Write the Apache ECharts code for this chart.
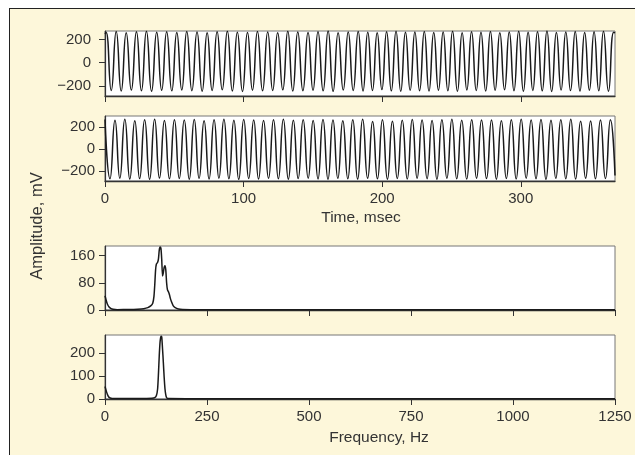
<!DOCTYPE html>
<html>
<head>
<meta charset="utf-8">
<script src="https://cdn.jsdelivr.net/npm/echarts@6/dist/echarts.min.js"></script>
<style>
  html, body { margin: 0; padding: 0; background: #fff; overflow: hidden; }
  #frame { position: absolute; left: 9px; top: 8px; width: 700px; height: 500px;
           background: #fdf7da; border: 1.5px solid #222; }
  #chart { position: absolute; left: 0; top: 0; width: 635px; height: 455px; }
</style>
</head>
<body>
<div id="frame"></div>
<div id="chart"></div>
<script>
// --- time signals (ms, mV): peaks and troughs
const sig1Start = [0, 248]
const sig1End = [368, 255]
const sig1PeakT = [0.8, 8.1, 15.3, 22.7, 29.9, 37.3, 44.5, 51.8, 59.0, 66.4,
  73.7, 80.9, 88.3, 95.5, 102.8, 110.0, 117.4, 124.6, 131.9, 139.1,
  146.5, 153.7, 161.0, 168.2, 175.5, 182.7, 189.6, 196.4, 203.2, 210.0,
  216.8, 223.6, 230.4, 237.2, 244.0, 250.8, 257.7, 264.5, 271.3, 278.1,
  284.9, 291.7, 298.5, 305.3, 312.1, 318.9, 325.7, 332.5, 339.3, 346.1,
  352.9, 359.7, 367.0]
const sig1PeakV = [262, 268, 258, 265, 270, 261, 266, 259, 268, 263,
  257, 266, 270, 262, 259, 267, 264, 256, 269, 263,
  260, 266, 271, 258, 264, 268, 262, 257, 266, 270,
  261, 264, 268, 259, 263, 270, 258, 265, 262, 268,
  256, 264, 269, 261, 266, 271, 259, 263, 267, 260,
  265, 269, 262]
const sig1TroughT = [4.5, 11.7, 19.0, 26.3, 33.6, 40.9, 48.2, 55.4, 62.7, 70.1,
  77.3, 84.6, 91.9, 99.2, 106.4, 113.7, 121.0, 128.3, 135.5, 142.8,
  150.1, 157.4, 164.6, 171.9, 179.1, 186.2, 193.0, 199.8, 206.6, 213.4,
  220.2, 227.0, 233.8, 240.6, 247.4, 254.3, 261.1, 267.9, 274.7, 281.5,
  288.3, 295.1, 301.9, 308.7, 315.5, 322.3, 329.1, 335.9, 342.7, 349.5,
  356.3, 363.3]
const sig1TroughV = [-238, -242, -234, -240, -245, -236, -241, -233, -239, -244,
  -237, -231, -242, -246, -235, -240, -238, -232, -243, -239,
  -236, -241, -245, -234, -238, -242, -237, -230, -241, -244,
  -236, -239, -243, -235, -240, -245, -233, -238, -242, -236,
  -231, -240, -244, -237, -241, -246, -234, -238, -243, -235,
  -240, -244]

const sig2Start = [0, 268]
const sig2End = [368, -240]
const sig2PeakT = [7.2, 14.3, 21.5, 28.6, 35.8, 42.9, 50.1, 57.2, 64.4,
  71.5, 78.7, 85.8, 93.0, 100.1, 107.3, 114.4, 121.6, 128.7, 135.9,
  143.0, 150.2, 157.3, 164.5, 171.6, 178.8, 185.9, 193.1, 200.2, 207.4,
  214.5, 221.7, 228.8, 236.0, 243.1, 250.3, 257.4, 264.6, 271.7, 278.9,
  286.0, 293.2, 300.3, 307.5, 314.6, 321.8, 328.9, 336.1, 343.2, 350.4,
  357.5, 364.7]
const sig2PeakV = [262, 270, 258, 266, 271, 260, 267, 263, 269,
  257, 265, 270, 261, 268, 264, 259, 267, 271, 262,
  266, 260, 269, 264, 258, 267, 270, 250, 265, 252,
  261, 268, 264, 259, 266, 270, 262, 267, 263, 264,
  258, 266, 270, 263, 268, 261, 265, 270, 252, 255,
  263, 266]
const sig2TroughT = [3.6, 10.7, 17.9, 25.0, 32.2, 39.3, 46.5, 53.6, 60.8, 67.9,
  75.1, 82.2, 89.4, 96.5, 103.7, 110.8, 118.0, 125.1, 132.3, 139.4,
  146.6, 153.7, 160.9, 168.0, 175.2, 182.3, 189.5, 196.6, 203.8, 210.9,
  218.1, 225.2, 232.4, 239.5, 246.7, 253.8, 261.0, 268.1, 275.3, 282.4,
  289.6, 296.7, 303.9, 311.0, 318.2, 325.3, 332.5, 339.6, 346.8, 353.9,
  361.1]
const sig2TroughV = [-270, -265, -272, -268, -274, -263, -270, -267, -273, -266,
  -271, -264, -269, -275, -267, -272, -265, -270, -273, -268,
  -264, -271, -274, -266, -269, -272, -265, -270, -273, -267,
  -271, -264, -269, -274, -266, -270, -272, -265, -268, -273,
  -267, -271, -264, -270, -274, -266, -269, -272, -265, -270,
  -268]

// --- spectra (Hz, amplitude)
const spec1F = [0, 3, 6, 10, 15, 20, 30, 60, 80, 95, 105, 112, 117, 120, 122, 124, 126, 129, 131,
  133, 135, 137, 139, 141, 143, 145, 147, 149, 151, 153, 156, 158, 160, 163, 167, 172, 180, 190, 210, 300, 1250]
const spec1A = [42, 28, 17, 9, 4, 2, 1, 1.5, 2.5, 4, 7, 12, 20, 40, 75, 118, 135, 140, 150,
  176, 185, 182, 150, 100, 110, 125, 130, 118, 80, 60, 52, 45, 35, 24, 13, 7, 3, 1.5, 1, 0.5, 0.5]
const spec2F = [0, 2, 4, 6, 8, 11, 15, 20, 60, 100, 115, 122, 126, 129, 131, 133, 135, 137, 139,
  141, 143, 145, 147, 149, 151, 155, 200, 1250]
const spec2A = [55, 42, 30, 20, 12, 6, 3, 2, 2, 2.5, 3, 6, 15, 45, 110, 190, 250, 275, 272,
  220, 160, 95, 45, 18, 6, 2, 1.5, 1]

const timeTicks = [0, 100, 200, 300]
const freqTicks = [0, 250, 500, 750, 1000, 1250]
const ampTicks = [-200, 0, 200]
const spec1Ticks = [0, 80, 160]
const spec2Ticks = [0, 100, 200]

function wave(start, peakT, peakV, troughT, troughV, end) {
  const pts = [start, end]
  peakT.forEach((t, i) => pts.push([t, peakV[i]]))
  troughT.forEach((t, i) => pts.push([t, troughV[i]]))
  return pts.sort((a, b) => a[0] - b[0])
}
function pairs(xs, ys) { return xs.map((x, i) => [x, ys[i]]) }

const ink = '#333'
const fmt = v => String(v).replace('-', '\u2212')

function xAxis(gi, max, ticks, showLabel) {
  return {
    type: 'value', gridIndex: gi, min: 0, max: max,
    splitLine: { show: false },
    axisLine: { show: true, onZero: false, lineStyle: { color: ink, width: 1.3 } },
    axisTick: { show: true, length: 6, customValues: ticks, lineStyle: { color: ink } },
    axisLabel: { show: showLabel, customValues: ticks, margin: 10, fontSize: 15, color: ink, formatter: fmt }
  }
}
function yAxis(gi, min, max, ticks, margin) {
  return {
    type: 'value', gridIndex: gi, min: min, max: max,
    splitLine: { show: false },
    axisLine: { show: true, onZero: false, lineStyle: { color: ink, width: 1.2 } },
    axisTick: { show: true, length: 6, customValues: ticks, lineStyle: { color: ink } },
    axisLabel: { customValues: ticks, margin: margin, fontSize: 15, color: ink, formatter: fmt }
  }
}
function line(gi, data, smooth) {
  return {
    type: 'line', xAxisIndex: gi, yAxisIndex: gi, data: data,
    showSymbol: false, smooth: smooth, silent: true,
    lineStyle: { color: '#1a1a1a', width: 1.5 }
  }
}

const gridBase = { left: 105, width: 510, show: true, backgroundColor: '#fff', borderColor: '#777', borderWidth: 1 }
const titleFont = '15.5px "Liberation Sans"'

const chart = echarts.init(document.getElementById('chart'))
chart.setOption({
  animation: false,
  textStyle: { fontFamily: 'Liberation Sans' },
  grid: [
    Object.assign({ top: 31, height: 65 }, gridBase),
    Object.assign({ top: 116, height: 65 }, gridBase),
    Object.assign({ top: 246, height: 64 }, gridBase),
    Object.assign({ top: 335, height: 64 }, gridBase)
  ],
  xAxis: [
    xAxis(0, 368, timeTicks, false),
    xAxis(1, 368, timeTicks, true),
    xAxis(2, 1250, freqTicks, false),
    xAxis(3, 1250, freqTicks, true)
  ],
  yAxis: [
    yAxis(0, -285, 272, ampTicks, 14),
    yAxis(1, -290, 300, ampTicks, 10),
    yAxis(2, 0, 188, spec1Ticks, 10),
    yAxis(3, 0, 280, spec2Ticks, 10)
  ],
  series: [
    line(0, wave(sig1Start, sig1PeakT, sig1PeakV, sig1TroughT, sig1TroughV, sig1End), 0.55),
    line(1, wave(sig2Start, sig2PeakT, sig2PeakV, sig2TroughT, sig2TroughV, sig2End), 0.55),
    line(2, pairs(spec1F, spec1A), 0.2),
    line(3, pairs(spec2F, spec2A), 0.2)
  ],
  graphic: [
    { type: 'text', x: 361, y: 218, style: { text: 'Time, msec', fill: ink, font: titleFont, align: 'center', verticalAlign: 'middle' } },
    { type: 'text', x: 379, y: 438, style: { text: 'Frequency, Hz', fill: ink, font: titleFont, align: 'center', verticalAlign: 'middle' } },
    { type: 'text', x: 37, y: 226, rotation: Math.PI / 2, style: { text: 'Amplitude, mV', fill: ink, font: '16.5px "Liberation Sans"', align: 'center', verticalAlign: 'middle' } }
  ]
})
</script>
</body>
</html>
